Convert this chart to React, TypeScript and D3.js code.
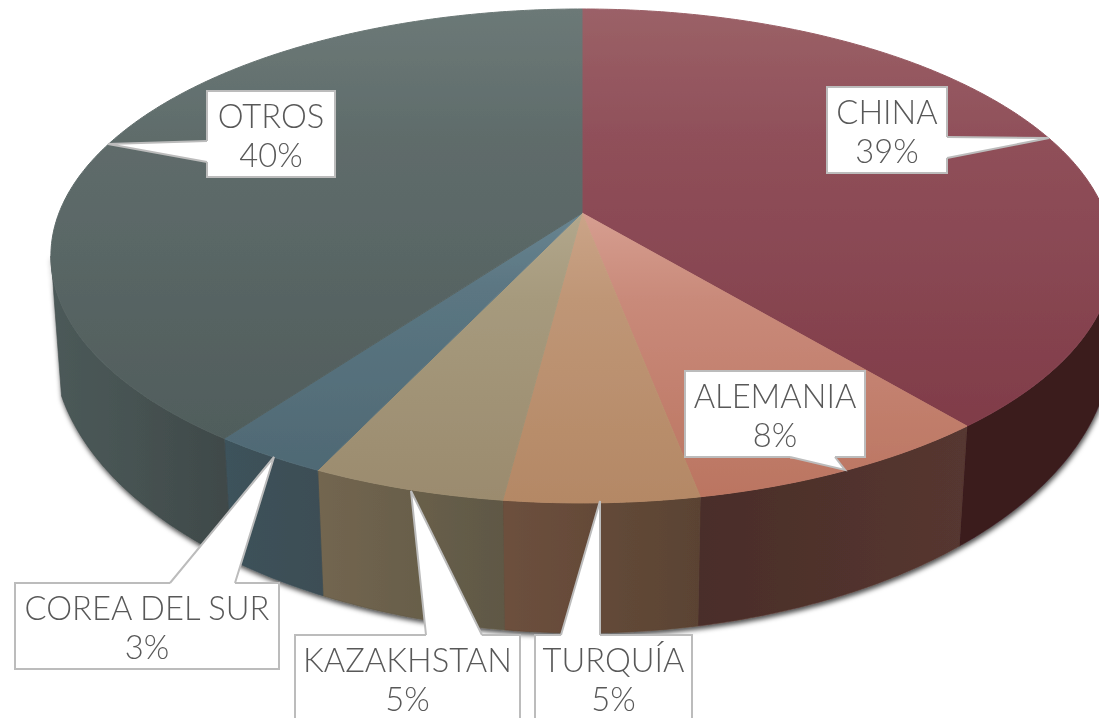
import React from 'react';
import * as d3 from 'd3';

// data
const countries = ['CHINA', 'ALEMANIA', 'TURQUÍA', 'KAZAKHSTAN', 'COREA DEL SUR', 'OTROS'];
const shares = [39, 8, 5, 5, 3, 40];

// styles, same order as the countries
const topLight = ['#9b6167', '#d69e90', '#cba488', '#b2a78c', '#688490', '#6c7977'];
const topMid = ['#90505a', '#c98a7a', '#bf9676', '#a69a7d', '#5b7682', '#5f6c6b'];
const topDark = ['#803c49', '#bb7561', '#b48865', '#9b8b6e', '#4f6974', '#505d5c'];
const wallLeft = ['#3a1a1e', '#4a2d29', '#6d503d', '#736650', '#3d525b', '#4c5a59'];
const wallRight = ['#3a1b1f', '#563730', '#5a4333', '#5f5845', '#3d4e55', '#3f4949'];

// label boxes, pointers are [base start, tip, base end]
const callouts = [
  { x: 827, y: 87, w: 120, h: 86, tip: [[947, 137], [1049, 138], [947, 158]] },
  { x: 685, y: 371, w: 180, h: 86, tip: [[790, 457], [845, 470], [835, 457]] },
  { x: 535, y: 635, w: 157, h: 90, tip: [[561, 635], [600, 501], [600, 635]] },
  { x: 295, y: 635, w: 225, h: 90, tip: [[426, 635], [411, 491], [482, 635]] },
  { x: 15, y: 583, w: 264, h: 86, tip: [[170, 583], [274, 457], [235, 583]] },
  { x: 207, y: 91, w: 128, h: 86, tip: [[207, 141], [108, 144], [207, 162]] },
];

const width = 1099;
const height = 718;

// tilted disc: a unit circle seen in perspective
const cx = 582;
const cy = 213;
const radiusX = 523;
const radiusY = 239.5;
const tilt = 0.174;

// lower edge of the wall
const baseCy = 341;
const baseRx = 530;
const baseRy = 292;

// only the front of the disc has a visible wall
const frontStart = (100 * Math.PI) / 180;
const frontEnd = (260 * Math.PI) / 180;

const project = (angle: number): [number, number] => {
  const u = Math.sin(angle);
  const v = -Math.cos(angle);
  const d = 1 - tilt * v;
  return [cx + (radiusX * u) / d, cy + (radiusY * v) / d];
};

const drop = ([x]: [number, number]): [number, number] => {
  const bx = cx + (x - cx) * 0.98;
  const t = (bx - cx) / baseRx;
  return [bx, baseCy + baseRy * Math.sqrt(1 - t * t)];
};

const rim = (a0: number, a1: number) => {
  const n = Math.max(2, Math.ceil((a1 - a0) / 0.01));
  return d3.range(n + 1).map((i) => project(a0 + ((a1 - a0) * i) / n));
};

const line = d3.line().curve(d3.curveLinear);

const arcs = d3.pie<number>().sort(null).value((d) => d)(shares);

const labelFont = "Lato, 'Open Sans', sans-serif";

export default function App() {
  return (
    <svg
      width={width}
      height={height}
      style={{ position: 'absolute', left: 0, top: 0, display: 'block', background: '#fff' }}
    >
      <defs>
        <filter id="shadow" x="-10%" y="-10%" width="120%" height="120%">
          <feDropShadow dx="1" dy="3" stdDeviation="2.5" floodColor="#000" floodOpacity="0.7" />
        </filter>
        <filter id="soft" filterUnits="userSpaceOnUse" x="-20" y="-20" width={width + 40} height={height + 40}>
          <feGaussianBlur stdDeviation="0.45" />
        </filter>
        {arcs.map((a, i) => (
          <React.Fragment key={i}>
            <linearGradient id={'top' + i} x1="0" y1="0" x2="0" y2="1">
              <stop offset="0" stopColor={topLight[i]} />
              <stop offset="0.3" stopColor={topMid[i]} />
              <stop offset="1" stopColor={topDark[i]} />
            </linearGradient>
            <linearGradient id={'wall' + i} x1="0" y1="0" x2="1" y2="0">
              <stop offset="0" stopColor={wallLeft[i]} />
              <stop offset="1" stopColor={wallRight[i]} />
            </linearGradient>
          </React.Fragment>
        ))}
      </defs>

      <g filter="url(#soft)">
        <g filter="url(#shadow)">
          {arcs.map((a, i) => {
            const pts = rim(Math.max(a.startAngle, frontStart), Math.min(a.endAngle, frontEnd));
            const wall = [...pts, ...pts.map(drop).reverse()];
            return (
              <path key={i} d={line(wall) + 'Z'} fill={`url(#wall${i})`} stroke={wallRight[i]} strokeWidth={0.6} />
            );
          })}
        </g>

        {arcs.map((a, i) => {
          const wedge: [number, number][] = [[cx, cy], ...rim(a.startAngle, a.endAngle)];
          return (
            <path
              key={i}
              d={line(wedge) + 'Z'}
              fill={`url(#top${i})`}
              stroke={`url(#top${i})`}
              strokeWidth={1}
              strokeLinejoin="round"
            />
          );
        })}

        {callouts.map((c, i) => {
          const tip = c.tip as [number, number][];
          return (
            <g key={i}>
              <rect x={c.x} y={c.y} width={c.w} height={c.h} fill="#fff" stroke="#bcbcbc" strokeWidth={2} />
              <path d={line(tip) + 'Z'} fill="#fff" />
              {/* opens the box edge under the pointer */}
              <path d={line([tip[0], tip[2]])!} fill="none" stroke="#fff" strokeWidth={2.4} />
              <path d={line(tip)!} fill="none" stroke="#bcbcbc" strokeWidth={2} />
              <text
                x={c.x + c.w / 2}
                y={c.y + 37}
                textAnchor="middle"
                fontFamily={labelFont}
                fontWeight={300}
                fontSize={32.7}
                fill="#595959"
              >
                {countries[i]}
              </text>
              <text
                x={c.x + c.w / 2}
                y={c.y + 76}
                textAnchor="middle"
                fontFamily={labelFont}
                fontWeight={300}
                fontSize={32.7}
                fill="#595959"
              >
                {shares[i]}%
              </text>
            </g>
          );
        })}
      </g>
    </svg>
  );
}
